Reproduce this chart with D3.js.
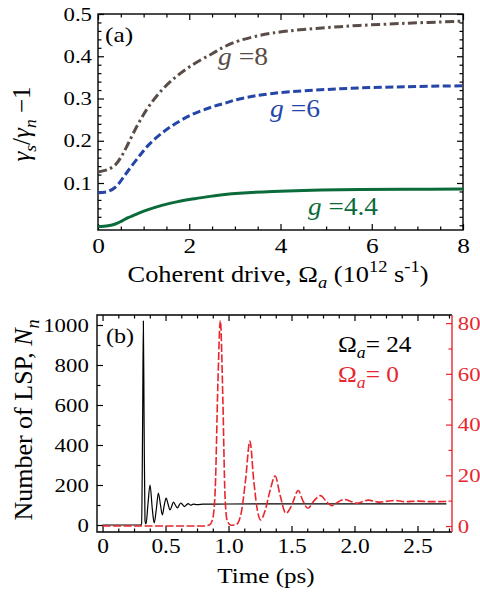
<!DOCTYPE html>
<html>
<head>
<meta charset="utf-8">
<script src="https://cdn.jsdelivr.net/npm/d3@7"></script>
<style>
  body { margin: 0; background: #fff; }
  svg { display: block; }
  text { font-family: "Liberation Serif", "Times New Roman", serif; white-space: pre; }
</style>
</head>
<body>
<svg id="chart" width="480" height="593"></svg>
<script>
// ----- //
// data
// ----- //
// panel (a): gamma_s/gamma_n - 1 vs coherent drive
const omegaA  = [0, 0.22, 0.38, 0.52, 0.66, 0.88, 1.1, 1.4, 1.75, 2.12, 2.5, 2.78, 3.1, 3.83, 5.3, 6.75, 8];
const gammaG8 = [0.126, 0.132, 0.143, 0.164, 0.193, 0.24, 0.279, 0.32, 0.355, 0.383, 0.406, 0.423, 0.437, 0.455, 0.47, 0.478, 0.483];
const gammaG6 = [0.077, 0.08, 0.09, 0.108, 0.129, 0.16, 0.189, 0.218, 0.244, 0.265, 0.28, 0.289, 0.299, 0.312, 0.323, 0.328, 0.33];
const gammaG44 = [-0.003, -0.001, 0.003, 0.01, 0.018, 0.028, 0.037, 0.047, 0.056, 0.063, 0.069, 0.073, 0.076, 0.08, 0.084, 0.085, 0.086];

// panel (b): number of LSP vs time
const timeOn = [0, 0.30, 0.31, 0.318, 0.324, 0.33, 0.337, 0.345, 0.36, 0.377, 0.395, 0.41, 0.427, 0.443, 0.46, 0.475,
                0.49, 0.505, 0.52, 0.535, 0.55, 0.562, 0.578, 0.594, 0.607, 0.62, 0.635, 0.65, 0.665, 0.68, 0.70,
                0.72, 0.75, 0.8, 1.0, 1.5, 2.0, 2.73];
const lspOn  = [0, 0, 5, 500, 1020, 500, 20, 5, 100, 200, 80, 10, 80, 160, 100, 50,
                100, 135, 105, 75, 95, 115, 100, 85, 98, 110, 102, 92, 100, 107, 99,
                104, 102, 104, 105, 106, 106, 106];
const timeOff = [0, 0.80, 0.85, 0.875, 0.895, 0.915, 0.935, 0.955, 0.972, 0.99, 1.02, 1.06, 1.10, 1.135, 1.17, 1.20,
                 1.23, 1.255, 1.29, 1.33, 1.37, 1.41, 1.456, 1.50, 1.554, 1.59, 1.63, 1.68, 1.73, 1.78, 1.82,
                 1.87, 1.92, 1.97, 2.02, 2.07, 2.11, 2.16, 2.2, 2.25, 2.32, 2.4, 2.5, 2.6, 2.73];
const lspOff  = [0, 0, 0.5, 3, 15, 55, 81, 50, 12, 2, 0.3, 0.5, 5, 18, 33.5, 18,
                 6, 2.4, 6, 14, 19.7, 12, 5, 8, 14, 10, 7, 10, 12, 9.5, 8,
                 9.5, 10.5, 9.7, 9, 9.7, 10.2, 9.7, 9.4, 9.7, 10.1, 9.6, 9.8, 9.6, 9.7];

// ticks
const xTicksA = [0, 2, 4, 6, 8];
const xLabelsA = ["0", "2", "4", "6", "8"];
const yTicksA = [0.1, 0.2, 0.3, 0.4, 0.5];
const yLabelsA = ["0.1", "0.2", "0.3", "0.4", "0.5"];
const xTicksB = [0, 0.5, 1, 1.5, 2, 2.5];
const xLabelsB = ["0", "0.5", "1.0", "1.5", "2.0", "2.5"];
const yTicksB = [0, 200, 400, 600, 800, 1000];
const yLabelsB = ["0", "200", "400", "600", "800", "1000"];
const yTicksR = [0, 20, 40, 60, 80];
const yLabelsR = ["0", "20", "40", "60", "80"];

const RED = "#e8262e";

// ----- //
// helpers
// ----- //
var svg = d3.select("#chart");

// rich text: parts = [{t, sub, sup, it}]
function rich(parent, parts, fs, fill) {
    var t = parent.append("text").attr("font-size", fs).attr("fill", fill);
    var shift = 0;
    parts.forEach(function(p) {
        var target = p.sub ? fs * 0.25 : (p.sup ? -fs * 0.4 : 0);
        var ts = t.append("tspan").text(p.t).attr("dy", target - shift);
        if (p.sub || p.sup) ts.attr("font-size", fs * 0.7);
        if (p.it) ts.attr("font-style", "italic");
        shift = target;
    });
    return t;
}

function place(t, x, y, sx, rot, anchor) {
    t.attr("text-anchor", anchor || "start")
     .attr("transform", "translate(" + x + "," + y + ")" + (rot ? " rotate(" + rot + ")" : "") + " scale(" + sx + ",1)");
    return t;
}

function drawAxis(g, axis, pos, fs, sx, color) {
    var a = g.append("g").attr("transform", pos).call(axis);
    a.select(".domain").remove();
    a.attr("font-size", fs).attr("font-family", null);
    a.selectAll("line").attr("stroke", color || "#000").attr("stroke-width", 1.2);
    a.selectAll("text").attr("fill", color || "#000").attr("transform", "scale(" + sx + ",1)");
    return a;
}

function minorVals(lo, hi, step, majors) {
    var out = [];
    for (var v = lo; v <= hi + 1e-9; v += step) {
        var r = Math.round(v * 1000) / 1000;
        if (!majors.some(function(m) { return Math.abs(m - r) < 1e-6; })) out.push(r);
    }
    return out;
}

// ----- //
// panel (a)
// ----- //
var A = { left: 98, right: 463, top: 14, bottom: 230 };
var xa = d3.scaleLinear().domain([0, 8]).range([A.left, A.right]);
var ya = d3.scaleLinear().domain([-0.0112, 0.5]).range([A.bottom, A.top]);
var ga = svg.append("g");

var xMinorA = minorVals(0, 8, 0.5, xTicksA);
var yMinorA = minorVals(0, 0.5, 0.02, yTicksA);

// bottom / top
drawAxis(ga, d3.axisBottom(xa).tickValues(xTicksA).tickFormat(function(d, i) { return xLabelsA[i]; })
    .tickSizeInner(-6).tickSizeOuter(0).tickPadding(7), "translate(0," + A.bottom + ")", 22, 1.15);
drawAxis(ga, d3.axisBottom(xa).tickValues(xMinorA).tickFormat("").tickSizeInner(-3.5).tickSizeOuter(0),
    "translate(0," + A.bottom + ")", 10, 1);
drawAxis(ga, d3.axisTop(xa).tickValues(xTicksA).tickFormat("").tickSizeInner(-6).tickSizeOuter(0),
    "translate(0," + A.top + ")", 10, 1);
drawAxis(ga, d3.axisTop(xa).tickValues(xMinorA).tickFormat("").tickSizeInner(-3.5).tickSizeOuter(0),
    "translate(0," + A.top + ")", 10, 1);
// left / right
drawAxis(ga, d3.axisLeft(ya).tickValues(yTicksA).tickFormat(function(d, i) { return yLabelsA[i]; })
    .tickSizeInner(-6).tickSizeOuter(0).tickPadding(5), "translate(" + A.left + ",0)", 19, 1.2);
drawAxis(ga, d3.axisLeft(ya).tickValues(yMinorA).tickFormat("").tickSizeInner(-3.5).tickSizeOuter(0),
    "translate(" + A.left + ",0)", 10, 1);
drawAxis(ga, d3.axisRight(ya).tickValues(yTicksA).tickFormat("").tickSizeInner(-6).tickSizeOuter(0),
    "translate(" + A.right + ",0)", 10, 1);
drawAxis(ga, d3.axisRight(ya).tickValues(yMinorA).tickFormat("").tickSizeInner(-3.5).tickSizeOuter(0),
    "translate(" + A.right + ",0)", 10, 1);

ga.append("rect")
    .attr("x", A.left).attr("y", A.top)
    .attr("width", A.right - A.left).attr("height", A.bottom - A.top)
    .attr("fill", "none").attr("stroke", "#000").attr("stroke-width", 1.4);

// curves
svg.append("clipPath").attr("id", "clipA").append("rect")
    .attr("x", A.left).attr("y", A.top).attr("width", A.right - A.left).attr("height", A.bottom - A.top);
var lineA = d3.line().x(function(d) { return xa(d[0]); }).y(function(d) { return ya(d[1]); })
    .curve(d3.curveCatmullRom.alpha(0.5));
var seriesA = [
    { vals: gammaG44, color: "#0b6b3a", dash: null },
    { vals: gammaG6,  color: "#2545a8", dash: "8,3.5" },
    { vals: gammaG8,  color: "#5a4c46", dash: "9,3.5,2.5,3.5" }
];
seriesA.forEach(function(s) {
    ga.append("path")
        .datum(omegaA.map(function(o, i) { return [o, s.vals[i]]; }))
        .attr("d", lineA)
        .attr("fill", "none")
        .attr("stroke", s.color)
        .attr("stroke-width", 3)
        .attr("stroke-dasharray", s.dash)
        .attr("clip-path", "url(#clipA)");
});

// curve labels
place(rich(ga, [{ t: "g", it: true }, { t: " =8" }], 26, "#5a4c46"), 243, 65, 1.06, 0, "middle");
place(rich(ga, [{ t: "g", it: true }, { t: " =6" }], 26, "#2545a8"), 295, 117, 1.06, 0, "middle");
place(rich(ga, [{ t: "g", it: true }, { t: " =4.4" }], 26, "#0b6b3a"), 343, 215, 1.05, 0, "middle");
place(rich(ga, [{ t: "(a)" }], 22, "#000"), 105, 42, 1.15, 0, "start");

// axis labels
place(rich(ga, [{ t: "Coherent drive, Ω" }, { t: "a", sub: true, it: true }, { t: " (10" }, { t: "12", sup: true },
    { t: " s" }, { t: "-1", sup: true }, { t: ")" }], 24, "#000"), 278, 282, 1.1, 0, "middle");
place(rich(ga, [{ t: "γ", it: true }, { t: "s", sub: true, it: true }, { t: "/" }, { t: "γ", it: true },
    { t: "n", sub: true, it: true }, { t: " −1" }], 25, "#000"), 30, 124, 1, -90, "middle");

// ----- //
// panel (b)
// ----- //
var B = { left: 97, right: 452, top: 315, bottom: 532 };
var xb = d3.scaleLinear().domain([-0.044, 2.774]).range([B.left, B.right]);
var yb = d3.scaleLinear().domain([-35, 1050]).range([B.bottom, B.top]);
var yr = d3.scaleLinear().domain([-2.36, 83.2]).range([B.bottom, B.top]);
var gb = svg.append("g");

var xMinorB = minorVals(0, 2.75, 0.125, xTicksB);
var yMinorB = minorVals(0, 1000, 100, yTicksB);
var yMinorR = minorVals(0, 80, 10, yTicksR);

drawAxis(gb, d3.axisBottom(xb).tickValues(xTicksB).tickFormat(function(d, i) { return xLabelsB[i]; })
    .tickSizeInner(-6).tickSizeOuter(0).tickPadding(7), "translate(0," + B.bottom + ")", 20, 1.17);
drawAxis(gb, d3.axisBottom(xb).tickValues(xMinorB).tickFormat("").tickSizeInner(-3.5).tickSizeOuter(0),
    "translate(0," + B.bottom + ")", 10, 1);
drawAxis(gb, d3.axisTop(xb).tickValues(xTicksB).tickFormat("").tickSizeInner(-6).tickSizeOuter(0),
    "translate(0," + B.top + ")", 10, 1);
drawAxis(gb, d3.axisTop(xb).tickValues(xMinorB).tickFormat("").tickSizeInner(-3.5).tickSizeOuter(0),
    "translate(0," + B.top + ")", 10, 1);
drawAxis(gb, d3.axisLeft(yb).tickValues(yTicksB).tickFormat(function(d, i) { return yLabelsB[i]; })
    .tickSizeInner(-6).tickSizeOuter(0).tickPadding(7), "translate(" + B.left + ",0)", 19.5, 1.17);
drawAxis(gb, d3.axisLeft(yb).tickValues(yMinorB).tickFormat("").tickSizeInner(-3.5).tickSizeOuter(0),
    "translate(" + B.left + ",0)", 10, 1);
drawAxis(gb, d3.axisRight(yr).tickValues(yTicksR).tickFormat(function(d, i) { return yLabelsR[i]; })
    .tickSizeInner(-6).tickSizeOuter(0).tickPadding(5), "translate(" + B.right + ",0)", 19.5, 1.17, RED);
drawAxis(gb, d3.axisRight(yr).tickValues(yMinorR).tickFormat("").tickSizeInner(-3.5).tickSizeOuter(0),
    "translate(" + B.right + ",0)", 10, 1, RED);

// frame: black top/left/bottom, red right
gb.append("path")
    .attr("d", "M" + B.right + "," + B.top + "H" + B.left + "V" + B.bottom + "H" + B.right)
    .attr("fill", "none").attr("stroke", "#000").attr("stroke-width", 1.4);
gb.append("line")
    .attr("x1", B.right).attr("x2", B.right).attr("y1", B.top).attr("y2", B.bottom)
    .attr("stroke", RED).attr("stroke-width", 1.4);

// curves
var lineOn = d3.line().x(function(d) { return xb(d[0]); }).y(function(d) { return yb(d[1]); }).curve(d3.curveMonotoneX);
var lineOff = d3.line().x(function(d) { return xb(d[0]); }).y(function(d) { return yr(d[1]); }).curve(d3.curveMonotoneX);

gb.append("path")
    .datum(timeOn.map(function(t, i) { return [t, lspOn[i]]; }))
    .attr("d", lineOn)
    .attr("fill", "none").attr("stroke", "#000").attr("stroke-width", 1.2);
gb.append("path")
    .datum(timeOff.map(function(t, i) { return [t, lspOff[i]]; }))
    .attr("d", lineOff)
    .attr("fill", "none").attr("stroke", RED).attr("stroke-width", 1.6)
    .attr("stroke-dasharray", "8,2.5");

// legend + panel label
place(rich(gb, [{ t: "Ω" }, { t: "a", sub: true, it: true }, { t: "= 24" }], 23, "#000"), 338, 352, 1.1, 0, "start");
place(rich(gb, [{ t: "Ω" }, { t: "a", sub: true, it: true }, { t: "= 0" }], 23, RED), 338, 382, 1.1, 0, "start");
place(rich(gb, [{ t: "(b)" }], 21, "#000"), 106, 343, 1.15, 0, "start");

// axis labels
place(rich(gb, [{ t: "Time (ps)" }], 22, "#000"), 266, 583, 1.14, 0, "middle");
place(rich(gb, [{ t: "Number of LSP, " }, { t: "N", it: true }, { t: "n", sub: true, it: true }], 26, "#000"),
    32, 420, 1, -90, "middle");
</script>
</body>
</html>
